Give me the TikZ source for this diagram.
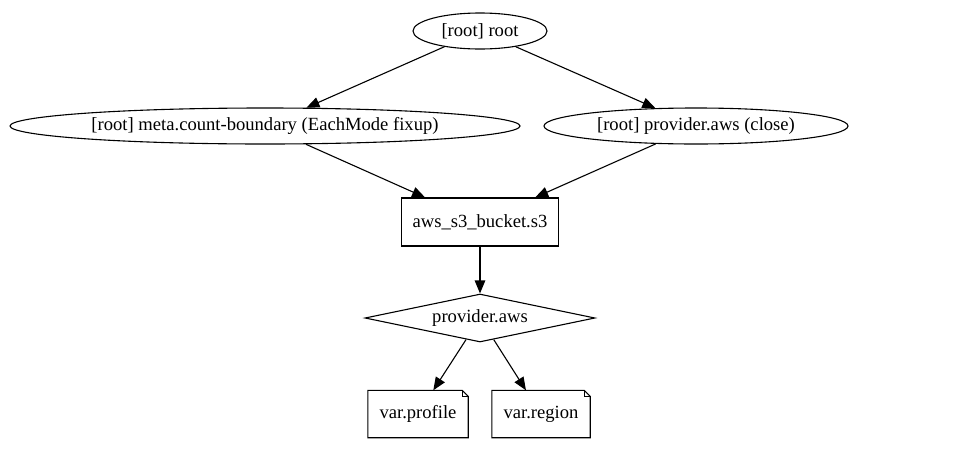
\documentclass[tikz,border=0pt]{standalone}
\usepackage{fontspec}
\setmainfont{Liberation Serif}
\usetikzlibrary{shapes.geometric,arrows.meta}
\tikzset{
  every node/.style={font=\fontsize{18.6}{22}\selectfont, inner sep=0pt},
  ell/.style={draw, ellipse, line width=1.1pt},
  box/.style={draw, rectangle, line width=1.1pt},
  dia/.style={draw, diamond, line width=1.1pt, aspect=4.8},
  notebox/.style={rectangle},
  edge/.style={line width=1.1pt, -{Triangle[length=13pt,width=10.5pt]}},
  noteline/.style={line width=1.1pt}
}
\begin{document}
\begin{tikzpicture}[x=1pt,y=-1pt]
\useasboundingbox (0,0) rectangle (975,453);
\node[ell, minimum width=134pt, minimum height=36pt] (root) at (480,31) {[root] root};
\node[ell, minimum width=510pt, minimum height=36pt] (meta) at (265,126) {[root] meta.count-boundary (EachMode fixup)};
\node[ell, minimum width=304pt, minimum height=36pt] (close) at (696,126) {[root] provider.aws (close)};
\node[box, minimum width=157pt, minimum height=48pt] (s3) at (480,222) {aws\_s3\_bucket.s3};
\node[dia, minimum width=230pt, minimum height=48pt] (prov) at (480,318) {provider.aws};
\node[notebox, minimum width=100pt, minimum height=47pt] (profile) at (418,414) {var.profile};
\node[notebox, minimum width=98pt, minimum height=47pt] (region) at (541,414) {var.region};
\foreach \n in {profile,region}{
  \draw[noteline] (\n.south west) -- (\n.south east) -- ([yshift=-6pt]\n.north east)
     -- ([xshift=-6pt]\n.north east) -- (\n.north west) -- cycle;
  \draw[noteline] ([xshift=-6pt]\n.north east) -- ([xshift=-6pt,yshift=-6pt]\n.north east) -- ([yshift=-6pt]\n.north east);
}
\draw[edge] (root) -- (meta);
\draw[edge] (root) -- (close);
\draw[edge] (meta) -- (s3);
\draw[edge] (close) -- (s3);
\draw[edge] (s3) -- (prov);
\draw[edge] (prov) -- (profile);
\draw[edge] (prov) -- (region);
\end{tikzpicture}
\end{document}
